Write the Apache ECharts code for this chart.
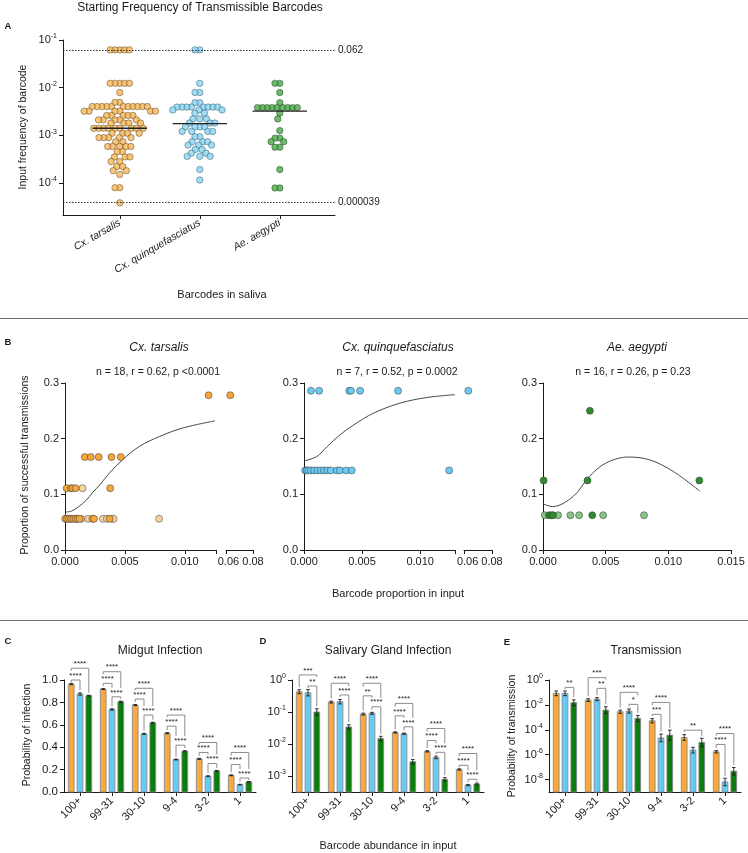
<!DOCTYPE html>
<html>
<head>
<meta charset="utf-8">
<script src="https://cdn.jsdelivr.net/npm/echarts@6.0.0/dist/echarts.min.js"></script>
<style>
html,body{margin:0;padding:0;background:#fff;}
#chart{width:748px;height:853px;}
</style>
</head>
<body>
<div id="chart"></div>
<script>
// ================= Panel A : starting frequency of transmissible barcodes =================
const speciesNames = ['Cx. tarsalis', 'Cx. quinquefasciatus', 'Ae. aegypti'];
const freqTarsalis = [
  0.062, 0.062, 0.062, 0.062, 0.062,
  0.0123, 0.0123, 0.0123, 0.0123, 0.0123,
  0.0079,
  0.0049, 0.0049,
  0.0040, 0.0040, 0.0040, 0.0040, 0.0040, 0.0040, 0.0040, 0.0040, 0.0040, 0.0040, 0.0040,
  0.0032, 0.0032, 0.0032, 0.0032, 0.0032, 0.0032,
  0.0026, 0.0026, 0.0026, 0.0026, 0.0026,
  0.0021, 0.0021, 0.0021, 0.0021, 0.0021,
  0.0018, 0.0018, 0.0018, 0.0018,
  0.0014, 0.0014, 0.0014, 0.0014, 0.0014, 0.0014, 0.0014, 0.0014, 0.0014,
  0.0011, 0.0011, 0.0011, 0.0011,
  0.00089, 0.00089, 0.00089, 0.00089, 0.00089,
  0.00073, 0.00073,
  0.00058, 0.00058, 0.00058, 0.00058, 0.00058,
  0.00045, 0.00045,
  0.00035, 0.00035, 0.00035,
  0.00028, 0.00028,
  0.00022, 0.00022,
  0.00018, 0.00018,
  0.00015,
  0.000079, 0.000079,
  0.000038
];
const freqQuinque = [
  0.062, 0.062,
  0.0123,
  0.0079, 0.0079,
  0.0048, 0.0048,
  0.0039, 0.0039, 0.0039, 0.0039, 0.0039, 0.0039, 0.0039, 0.0039,
  0.0034, 0.0034, 0.0034,
  0.0029, 0.0029,
  0.0022, 0.0022, 0.0022,
  0.0018, 0.0018, 0.0018,
  0.0015, 0.0015, 0.0015, 0.0015,
  0.0012, 0.0012, 0.0012, 0.0012,
  0.00093, 0.00093,
  0.00073, 0.00073, 0.00073,
  0.00062, 0.00062, 0.00062,
  0.00050, 0.00050,
  0.00042, 0.00042,
  0.00036, 0.00036, 0.00036,
  0.00019,
  0.000115
];
const freqAegypti = [
  0.0123, 0.0123,
  0.0079,
  0.0048,
  0.0038, 0.0038, 0.0038, 0.0038, 0.0038, 0.0038, 0.0038, 0.0038, 0.0038,
  0.0029,
  0.0022,
  0.00125,
  0.00087, 0.00087,
  0.00073, 0.00073,
  0.00056, 0.00056,
  0.00019,
  0.000078, 0.000078
];
const medianFreq = [0.0014, 0.00175, 0.0032];
const refLineValues = [0.062, 0.000039];
const refLineLabels = ['0.062', '0.000039'];
const freqTickExponents = [-4, -3, -2, -1];

// ================= Panel B : proportion of successful transmissions =================
const tarsDarkX = [0.01198, 0.00165, 0.00215, 0.00281, 0.00388, 0.00465, 0.00014, 0.00050, 0.00063, 0.00088, 0.00377,
  0.00002, 0.00018, 0.00035, 0.00052, 0.00070, 0.00088, 0.00105, 0.00122, 0.00229, 0.00242, 0.00372];
const tarsDarkY = [0.278, 0.167, 0.167, 0.167, 0.167, 0.167, 0.111, 0.111, 0.111, 0.111, 0.111,
  0.056, 0.056, 0.056, 0.056, 0.056, 0.056, 0.056, 0.056, 0.056, 0.056, 0.056];
const tarsLightX = [0.00146, 0.00008, 0.00043, 0.00095, 0.00135, 0.00193, 0.00317, 0.00350, 0.00394, 0.00405, 0.00785];
const tarsLightY = [0.111, 0.056, 0.056, 0.056, 0.056, 0.056, 0.056, 0.056, 0.056, 0.056, 0.056];
const tarsBreakX = [0.0615];
const tarsBreakY = [0.278];
const tarsCurveX = [0, 0.00055, 0.0011, 0.0018, 0.0023, 0.0029, 0.0037, 0.0048, 0.0062, 0.0079, 0.0098, 0.0125];
const tarsCurveY = [0.068, 0.070, 0.077, 0.090, 0.103, 0.117, 0.138, 0.162, 0.186, 0.204, 0.219, 0.232];

const quinX = [0.0006, 0.0013, 0.0039, 0.00405, 0.00483, 0.0081,
  0.0001, 0.00023, 0.00037, 0.00058, 0.00086, 0.00115, 0.00144, 0.00172, 0.00201, 0.0023, 0.00282, 0.0031, 0.00362, 0.00411, 0.0125];
const quinY = [0.286, 0.286, 0.286, 0.286, 0.286, 0.286,
  0.143, 0.143, 0.143, 0.143, 0.143, 0.143, 0.143, 0.143, 0.143, 0.143, 0.143, 0.143, 0.143, 0.143, 0.143];
const quinBreakX = [0.0605];
const quinBreakY = [0.286];
const quinCurveX = [0, 0.0011, 0.002, 0.0031, 0.0043, 0.006, 0.0083, 0.0106, 0.013];
const quinCurveY = [0.160, 0.168, 0.186, 0.207, 0.225, 0.246, 0.264, 0.274, 0.279];

const aegDarkX = [0.00374, 0.00005, 0.00355, 0.01247, 0.00048, 0.00067, 0.00080, 0.00393];
const aegDarkY = [0.25, 0.125, 0.125, 0.125, 0.0625, 0.0625, 0.0625, 0.0625];
const aegLightX = [0.00014, 0.0012, 0.00219, 0.00288, 0.0048, 0.00806];
const aegLightY = [0.0625, 0.0625, 0.0625, 0.0625, 0.0625, 0.0625];
const aegCurveX = [0, 0.00075, 0.0024, 0.0037, 0.005, 0.0068, 0.0085, 0.0104, 0.0125];
const aegCurveY = [0.083, 0.078, 0.096, 0.132, 0.156, 0.167, 0.162, 0.141, 0.106];

const statTexts = ['n = 18, r = 0.62, p <0.0001', 'n = 7, r = 0.52, p = 0.0002', 'n = 16, r = 0.26, p = 0.23'];

// ================= Panels C, D, E : bars by barcode abundance =================
const abundanceGroups = ['100+', '99-31', '30-10', '9-4', '3-2', '1'];
const midgutTars = [0.964, 0.919, 0.776, 0.525, 0.296, 0.149];
const midgutQuin = [0.875, 0.737, 0.519, 0.290, 0.141, 0.066];
const midgutAeg  = [0.860, 0.806, 0.618, 0.364, 0.188, 0.090];
const midgutErrTars = [0.006, 0.004, 0.005, 0.005, 0.005, 0.004];
const midgutErrQuin = [0.010, 0.006, 0.005, 0.004, 0.004, 0.003];
const midgutErrAeg  = [0.004, 0.005, 0.005, 0.005, 0.005, 0.004];

const salivaryTars = [0.43, 0.204, 0.086, 0.023, 0.0059, 0.0016];
const salivaryQuin = [0.40, 0.21, 0.091, 0.021, 0.0038, 0.00052];
const salivaryAeg  = [0.10, 0.034, 0.0148, 0.0028, 0.00079, 0.00056];
// error half-widths in decades (log panels)
const salivaryErrTars = [0.063, 0.03, 0.03, 0.02, 0.02, 0.02];
const salivaryErrQuin = [0.10, 0.07, 0.03, 0.02, 0.04, 0.02];
const salivaryErrAeg  = [0.10, 0.07, 0.07, 0.07, 0.05, 0.03];

const transTars = [0.085, 0.0245, 0.0028, 0.00053, 2.4e-5, 1.7e-6];
const transQuin = [0.085, 0.029, 0.0032, 2.2e-5, 2.3e-6, 6.4e-9];
const transAeg  = [0.015, 0.0038, 0.00082, 3.7e-5, 9.5e-6, 4.7e-8];
const transErrTars = [0.19, 0.11, 0.13, 0.17, 0.23, 0.10];
const transErrQuin = [0.19, 0.12, 0.17, 0.31, 0.23, 0.30];
const transErrAeg  = [0.23, 0.27, 0.24, 0.40, 0.34, 0.30];

// significance brackets: [group, fromBar, toBar, height, label]
const midgutBrackets = [
  [0, 0, 2, 1.105, '****'], [0, 0, 1, 1.0, '****'],
  [1, 0, 2, 1.074, '****'], [1, 0, 1, 0.970, '****'], [1, 1, 2, 0.850, '****'],
  [2, 0, 2, 0.926, '****'], [2, 0, 1, 0.830, '****'], [2, 1, 2, 0.687, '****'],
  [3, 0, 2, 0.687, '****'], [3, 0, 1, 0.588, '****'], [3, 1, 2, 0.418, '****'],
  [4, 0, 2, 0.442, '****'], [4, 0, 1, 0.353, '****'], [4, 1, 2, 0.254, '****'],
  [5, 0, 2, 0.353, '****'], [5, 0, 1, 0.245, '****'], [5, 1, 2, 0.125, '****']
];
const salivaryBrackets = [
  [0, 0, 2, 1.44, '***'], [0, 1, 2, 0.65, '**'],
  [1, 0, 2, 0.79, '****'], [1, 1, 2, 0.34, '****'],
  [2, 0, 2, 0.79, '****'], [2, 0, 1, 0.32, '**'], [2, 1, 2, 0.146, '****'],
  [3, 0, 2, 0.186, '****'], [3, 0, 1, 0.076, '****'], [3, 1, 2, 0.0344, '****'],
  [4, 0, 2, 0.0306, '****'], [4, 0, 1, 0.0129, '****'], [4, 1, 2, 0.0055, '****'],
  [5, 0, 2, 0.00504, '****'], [5, 0, 1, 0.00216, '****'], [5, 1, 2, 0.00079, '****']
];
const transBrackets = [
  [0, 1, 2, 0.257, '**'],
  [1, 0, 2, 1.55, '***'], [1, 1, 2, 0.214, '**'],
  [2, 0, 2, 0.102, '****'], [2, 1, 2, 0.011, '*'],
  [3, 0, 2, 0.0158, '****'], [3, 0, 1, 0.00174, '***'],
  [4, 0, 2, 9.3e-5, '**'],
  [5, 0, 2, 5.0e-5, '****'], [5, 0, 1, 6.6e-6, '****']
];

// ================= styling =================
const FONT = '"Liberation Sans", Arial, Helvetica, sans-serif';
const INK = '#1a1a1a';
const barColors = ['#F9A83C', '#66CCF5', '#0C7C0C'];

function supRich(base) {
  return {
    b: { fontSize: base, fontFamily: FONT, color: INK },
    s: { fontSize: Math.round(base * 0.68), fontFamily: FONT, color: INK, padding: [0, 0, Math.round(base * 0.6), 0] }
  };
}
function supFmt(v) { return '{b|10}{s|' + Math.round(v) + '}'; }
const axLine = { show: true, onZero: false, lineStyle: { color: INK, width: 1 } };
function tick(extra) { return Object.assign({ show: true, length: 4, lineStyle: { color: INK, width: 1 } }, extra || {}); }
function lab(extra) { return Object.assign({ color: INK, fontSize: 11, fontFamily: FONT, margin: 6 }, extra || {}); }
const noSplit = { show: false };

const chart = echarts.init(document.getElementById('chart'), null, { renderer: 'canvas' });

// ---------- grids ----------
const grids = [
  { left: 63, top: 40, width: 272, height: 175 },      // 0 A
  { left: 65, top: 383, width: 151, height: 167 },     // 1 B1 main
  { left: 226, top: 383, width: 27, height: 167 },     // 2 B1 break
  { left: 304, top: 383, width: 151, height: 167 },    // 3 B2 main
  { left: 464, top: 383, width: 28, height: 167 },     // 4 B2 break
  { left: 543, top: 383, width: 188, height: 167 },    // 5 B3
  { left: 64, top: 680, width: 192, height: 112 },     // 6 C
  { left: 292, top: 680, width: 192, height: 112 },    // 7 D
  { left: 549, top: 680, width: 192, height: 112 }     // 8 E
];

const fmt3 = v => v.toFixed(3);
const fmt2 = v => v.toFixed(2);
const fmt1 = v => v.toFixed(1);

const xAxes = [
  { gridIndex: 0, type: 'value', min: 0.29, max: 3.69, axisLine: axLine, splitLine: noSplit,
    axisTick: tick({ customValues: [1, 2, 3] }),
    axisLabel: lab({ customValues: [1, 2, 3], formatter: v => speciesNames[Math.round(v) - 1], rotate: 30, fontStyle: 'italic', fontSize: 10.5, margin: 7 }) },
  { gridIndex: 1, type: 'value', min: 0, max: 0.0126, axisLine: axLine, splitLine: noSplit,
    axisTick: tick({ customValues: [0, 0.005, 0.01, 0.0126] }),
    axisLabel: lab({ customValues: [0, 0.005, 0.01], formatter: fmt3 }) },
  { gridIndex: 2, type: 'value', min: 0.058, max: 0.08, axisLine: axLine, splitLine: noSplit,
    axisTick: tick({ customValues: [0.058, 0.08] }),
    axisLabel: lab({ customValues: [0.06, 0.08], formatter: fmt2 }) },
  { gridIndex: 3, type: 'value', min: 0, max: 0.013, axisLine: axLine, splitLine: noSplit,
    axisTick: tick({ customValues: [0, 0.005, 0.01, 0.013] }),
    axisLabel: lab({ customValues: [0, 0.005, 0.01], formatter: fmt3 }) },
  { gridIndex: 4, type: 'value', min: 0.057, max: 0.08, axisLine: axLine, splitLine: noSplit,
    axisTick: tick({ customValues: [0.057, 0.08] }),
    axisLabel: lab({ customValues: [0.06, 0.08], formatter: fmt2 }) },
  { gridIndex: 5, type: 'value', min: 0, max: 0.015, interval: 0.005, axisLine: axLine, splitLine: noSplit,
    axisTick: tick(), axisLabel: lab({ formatter: fmt3 }) },
  { gridIndex: 6, type: 'category', data: abundanceGroups, axisLine: axLine,
    axisTick: tick({ alignWithLabel: true }), axisLabel: lab({ rotate: 45, interval: 0, margin: 7 }) },
  { gridIndex: 7, type: 'category', data: abundanceGroups, axisLine: axLine,
    axisTick: tick({ alignWithLabel: true }), axisLabel: lab({ rotate: 45, interval: 0, margin: 7 }) },
  { gridIndex: 8, type: 'category', data: abundanceGroups, axisLine: axLine,
    axisTick: tick({ alignWithLabel: true }), axisLabel: lab({ rotate: 45, interval: 0, margin: 7 }) }
];

const propAxis = gi => ({ gridIndex: gi, type: 'value', min: 0, max: 0.3, interval: 0.1, axisLine: axLine,
  splitLine: noSplit, axisTick: tick(), axisLabel: lab({ formatter: fmt1 }) });
const yAxes = [
  { gridIndex: 0, type: 'value', min: -4.676, max: -1, axisLine: axLine, splitLine: noSplit,
    axisTick: tick({ customValues: freqTickExponents }),
    axisLabel: lab({ customValues: freqTickExponents, formatter: supFmt, rich: supRich(11) }) },
  propAxis(1),
  { gridIndex: 2, type: 'value', min: 0, max: 0.3, show: false },
  propAxis(3),
  { gridIndex: 4, type: 'value', min: 0, max: 0.3, show: false },
  propAxis(5),
  { gridIndex: 6, type: 'value', min: 0, max: 1, interval: 0.2, axisLine: axLine, splitLine: noSplit,
    axisTick: tick(), axisLabel: lab({ formatter: fmt1, fontSize: 11.5 }) },
  { gridIndex: 7, type: 'value', min: -3.5, max: 0, axisLine: axLine, splitLine: noSplit,
    axisTick: tick({ customValues: [-3, -2, -1, 0] }),
    axisLabel: lab({ customValues: [-3, -2, -1, 0], formatter: supFmt, rich: supRich(11) }) },
  { gridIndex: 8, type: 'value', min: -9, max: 0, axisLine: axLine, splitLine: noSplit,
    axisTick: tick({ customValues: [-8, -6, -4, -2, 0] }),
    axisLabel: lab({ customValues: [-8, -6, -4, -2, 0], formatter: supFmt, rich: supRich(11) }) }
];

// ---------- series ----------
const dotBorder = 'rgba(55,55,55,0.85)';
function pairs(xs, ys) { return xs.map((x, i) => [x, ys[i]]); }
function scatterB(id, idx, xs, ys, color) {
  return { id, type: 'scatter', xAxisIndex: idx, yAxisIndex: idx, symbolSize: 7, silent: true, z: 3,
    itemStyle: { color, borderColor: dotBorder, borderWidth: 0.6, opacity: 1 }, data: pairs(xs, ys) };
}
function curveB(id, idx, xs, ys) {
  return { id, type: 'line', xAxisIndex: idx, yAxisIndex: idx, smooth: 0.35, showSymbol: false, symbol: 'none',
    silent: true, z: 2, lineStyle: { color: '#333', width: 0.9 }, data: pairs(xs, ys) };
}

function barSeries(axisIdx, vals, errs, brackets, isLog, yMin) {
  return {
    id: 'bars' + axisIdx, type: 'custom', xAxisIndex: axisIdx, yAxisIndex: axisIdx, silent: true, clip: false, z: 3,
    data: abundanceGroups.map((g, i) => [i, yMin]),
    renderItem: function (params, api) {
      const g = api.value(0);
      const band = api.size([1, 0])[0];
      const base = api.coord([g, yMin]);
      const pitch = band * 0.275, w = band * 0.18, cap = 1.8;
      const tr = v => isLog ? Math.log10(v) : v;
      const ch = [], xs = [], tops = [];
      for (let s = 0; s < 3; s++) {
        const v = vals[s][g];
        const xc = base[0] + (s - 1) * pitch;
        const ty = api.coord([g, tr(v)])[1];
        let hi, lo;
        if (isLog) {
          hi = api.coord([g, Math.log10(v) + errs[s][g]])[1];
          lo = api.coord([g, Math.log10(v) - errs[s][g]])[1];
        } else {
          hi = api.coord([g, v + errs[s][g]])[1];
          lo = api.coord([g, Math.max(0, v - errs[s][g])])[1];
        }
        lo = Math.min(lo, base[1]);
        xs.push(xc); tops.push(Math.min(ty, hi));
        ch.push({ type: 'rect', shape: { x: xc - w / 2, y: ty, width: w, height: base[1] - ty },
          style: { fill: barColors[s], stroke: '#8a8a8a', lineWidth: 0.9 } });
        ch.push({ type: 'line', shape: { x1: xc, y1: hi, x2: xc, y2: lo }, style: { stroke: '#1e1e1e', lineWidth: 0.9 } });
        ch.push({ type: 'line', shape: { x1: xc - cap, y1: hi, x2: xc + cap, y2: hi }, style: { stroke: '#1e1e1e', lineWidth: 0.9 } });
        ch.push({ type: 'line', shape: { x1: xc - cap, y1: lo, x2: xc + cap, y2: lo }, style: { stroke: '#1e1e1e', lineWidth: 0.9 } });
      }
      const mine = brackets.filter(b => b[0] === g).map(b => ({ from: b[1], to: b[2], y: api.coord([g, tr(b[3])])[1], label: b[4] }));
      mine.forEach(b => {
        const leg = k => {
          let below = Infinity;
          mine.forEach(o => { if (o !== b && o.y > b.y && o.from <= k && o.to >= k) below = Math.min(below, o.y); });
          const yb = below < Infinity ? below - 9 : tops[k] - 2.5;
          return Math.max(yb, b.y + 2);
        };
        const x1 = xs[b.from], x2 = xs[b.to];
        ch.push({ type: 'polyline', shape: { points: [[x1, leg(b.from)], [x1, b.y], [x2, b.y], [x2, leg(b.to)]] },
          style: { stroke: '#8c8c8c', lineWidth: 1, fill: 'none' } });
        ch.push({ type: 'text', x: (x1 + x2) / 2, y: b.y - 0.5,
          style: { text: b.label, fontSize: 8, fontFamily: FONT, fill: '#222', align: 'center', verticalAlign: 'bottom',
            textAlign: 'center', textVerticalAlign: 'bottom' } });
      });
      return { type: 'group', children: ch };
    }
  };
}

const dotStyleA = [
  { color: '#F7B756', borderColor: 'rgba(90,70,40,0.9)', borderWidth: 0.7 },
  { color: '#8AD4F2', borderColor: 'rgba(50,90,110,0.9)', borderWidth: 0.7 },
  { color: '#4AA847', borderColor: 'rgba(30,70,30,0.9)', borderWidth: 0.7 }
];
const freqLists = [freqTarsalis, freqQuinque, freqAegypti];

const series = [];
freqLists.forEach((list, i) => {
  const s = { id: 'sw' + i, type: 'scatter', xAxisIndex: 0, yAxisIndex: 0, symbolSize: 6.4, silent: true, z: 3,
    itemStyle: dotStyleA[i], data: list.map(v => [i + 1, Math.log10(v)]) };
  if (i === 0) {
    s.markLine = { silent: true, symbol: 'none', animation: false,
      lineStyle: { type: [1.5, 1.5], color: '#333', width: 1 },
      label: { show: true, position: 'end', fontSize: 10, fontFamily: FONT, color: INK, distance: 3, formatter: p => p.name },
      data: refLineValues.map((v, k) => ({ yAxis: Math.log10(v), name: refLineLabels[k] })) };
  }
  series.push(s);
});
series.push({ id: 'medA', type: 'custom', xAxisIndex: 0, yAxisIndex: 0, silent: true, z: 5,
  data: medianFreq.map((m, i) => [i + 1, Math.log10(m)]),
  renderItem: (params, api) => {
    const p = api.coord([api.value(0), api.value(1)]);
    const half = api.size([0.34, 0])[0];
    return { type: 'line', shape: { x1: p[0] - half, y1: p[1], x2: p[0] + half, y2: p[1] }, style: { stroke: '#222', lineWidth: 1.3 } };
  } });

series.push(curveB('cT', 1, tarsCurveX, tarsCurveY));
series.push(scatterB('tL', 1, tarsLightX, tarsLightY, '#F8D39E'));
series.push(scatterB('tD', 1, tarsDarkX, tarsDarkY, '#F5A63B'));
series.push(scatterB('tB', 2, tarsBreakX, tarsBreakY, '#F5A63B'));
series.push(curveB('cQ', 3, quinCurveX, quinCurveY));
series.push(scatterB('qD', 3, quinX, quinY, '#6CCBF2'));
series.push(scatterB('qB', 4, quinBreakX, quinBreakY, '#6CCBF2'));
series.push(curveB('cA', 5, aegCurveX, aegCurveY));
series.push(scatterB('aL', 5, aegLightX, aegLightY, '#86C586'));
series.push(scatterB('aD', 5, aegDarkX, aegDarkY, '#2E8B2E'));

series.push(barSeries(6, [midgutTars, midgutQuin, midgutAeg], [midgutErrTars, midgutErrQuin, midgutErrAeg], midgutBrackets, false, 0));
series.push(barSeries(7, [salivaryTars, salivaryQuin, salivaryAeg], [salivaryErrTars, salivaryErrQuin, salivaryErrAeg], salivaryBrackets, true, -3.5));
series.push(barSeries(8, [transTars, transQuin, transAeg], [transErrTars, transErrQuin, transErrAeg], transBrackets, true, -9));

// ---------- text graphics ----------
function txt(x, y, text, size, o) {
  o = o || {};
  return { type: 'text', x, y, rotation: o.rot || 0, silent: true,
    style: { text, fontSize: size, fontFamily: FONT, fontWeight: o.bold ? 'bold' : 'normal', fontStyle: o.italic ? 'italic' : 'normal',
      fill: INK, align: 'center', verticalAlign: 'middle', textAlign: 'center', textVerticalAlign: 'middle' } };
}
function hline(y) {
  return { type: 'line', silent: true, shape: { x1: 0, y1: y, x2: 748, y2: y }, style: { stroke: '#707070', lineWidth: 1 } };
}
const graphics = [
  txt(200, 8, 'Starting Frequency of Transmissible Barcodes', 12),
  txt(8, 26, 'A', 9.5, { bold: true }),
  txt(23, 127, 'Input frequency of barcode', 10.5, { rot: Math.PI / 2 }),
  txt(222, 295, 'Barcodes in saliva', 11),
  hline(318.5),
  txt(8, 342, 'B', 9.5, { bold: true }),
  txt(159, 348, 'Cx. tarsalis', 12, { italic: true }),
  txt(398, 348, 'Cx. quinquefasciatus', 12, { italic: true }),
  txt(637, 348, 'Ae. aegypti', 12, { italic: true }),
  txt(158, 372, statTexts[0], 10.5),
  txt(397, 372, statTexts[1], 10.5),
  txt(633, 372, statTexts[2], 10.5),
  txt(25, 465, 'Proportion of successful transmissions', 10.5, { rot: Math.PI / 2 }),
  txt(398, 594, 'Barcode proportion in input', 11),
  hline(620.5),
  txt(8, 641, 'C', 9.5, { bold: true }),
  txt(263, 641, 'D', 9.5, { bold: true }),
  txt(507, 642, 'E', 9.5, { bold: true }),
  txt(160, 651, 'Midgut Infection', 12),
  txt(388, 651, 'Salivary Gland Infection', 12),
  txt(646, 651, 'Transmission', 12),
  txt(27, 735, 'Probability of infection', 10.5, { rot: Math.PI / 2 }),
  txt(512, 736, 'Probability of transmission', 10.5, { rot: Math.PI / 2 }),
  txt(388, 846, 'Barcode abundance in input', 11)
];

chart.setOption({
  animation: false,
  backgroundColor: '#ffffff',
  textStyle: { fontFamily: FONT },
  grid: grids,
  xAxis: xAxes,
  yAxis: yAxes,
  series: series,
  graphic: { elements: graphics }
});

// ---------- beeswarm layout for panel A (pixel space via the chart's own scales) ----------
// elliptical spacing: tight horizontally (dh), wider vertically (dv), like the row-based layout of the original
function beeswarm(pys, dh, dv) {
  const k = dh / dv;
  const ys = pys.map(y => y * k);
  const order = ys.map((y, i) => i).sort((a, b) => ys[a] - ys[b]);
  const placed = [];
  const dx = new Array(ys.length).fill(0);
  const d = dh;
  order.forEach(i => {
    const y = ys[i];
    const near = placed.filter(p => Math.abs(p.y - y) < d);
    const cands = [0];
    near.forEach(p => { const h = Math.sqrt(d * d - (p.y - y) * (p.y - y)); cands.push(p.x - h, p.x + h); });
    cands.sort((a, b) => (Math.abs(a) - Math.abs(b)) || (a - b));
    let chosen = 0;
    for (const c of cands) {
      if (near.every(p => (p.x - c) * (p.x - c) + (p.y - y) * (p.y - y) >= d * d - 0.01)) { chosen = c; break; }
    }
    placed.push({ x: chosen, y });
    dx[i] = chosen;
  });
  return dx;
}
const finder = { xAxisIndex: 0, yAxisIndex: 0 };
const upd = freqLists.map((list, i) => {
  const cat = i + 1;
  const unit = chart.convertToPixel(finder, [cat + 1, -2])[0] - chart.convertToPixel(finder, [cat, -2])[0];
  const pys = list.map(v => chart.convertToPixel(finder, [cat, Math.log10(v)])[1]);
  const dx = beeswarm(pys, 4.8, 6.3);
  return { id: 'sw' + i, data: list.map((v, k) => [cat + dx[k] / unit, Math.log10(v)]) };
});
chart.setOption({ series: upd });
</script>
</body>
</html>
